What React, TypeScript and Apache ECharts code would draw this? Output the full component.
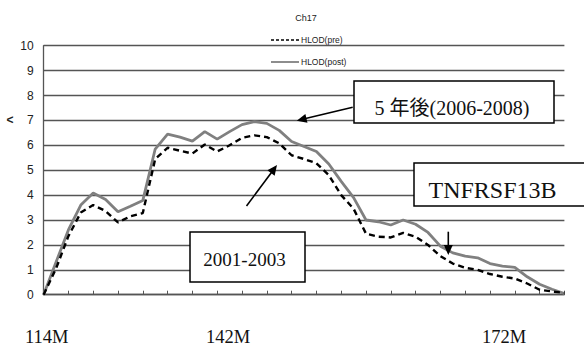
import React, { useEffect, useRef } from "react";
import * as echarts from "echarts";

const chartTitle = "Ch17";
const seriesNames = ["HLOD(pre)", "HLOD(post)"];
const xTickLabels = ["114M", "142M", "172M"];
const yTicks = { min: 0, max: 10, interval: 1 };

// HLOD before (2001-2003), one value per half tick
const pre = [
  0, 1.05, 2.35, 3.3, 3.6, 3.36, 2.9, 3.15, 3.28, 5.45,
  5.9, 5.78, 5.67, 6.03, 5.75, 6.0, 6.3, 6.4, 6.33, 6.08,
  5.6, 5.45, 5.28, 4.8, 4.0, 3.45, 2.45, 2.33, 2.3, 2.48,
  2.33, 2.0, 1.55, 1.25, 1.08, 1.0, 0.83, 0.72, 0.65, 0.45,
  0.2, 0.13, 0.07,
];
// HLOD after (2006-2008)
const post = [
  0, 1.3, 2.6, 3.6, 4.08, 3.82, 3.33, 3.55, 3.78, 5.85,
  6.45, 6.33, 6.17, 6.55, 6.25, 6.55, 6.83, 6.95, 6.88, 6.6,
  6.15, 5.95, 5.75, 5.25, 4.55, 3.9, 3.0, 2.93, 2.8, 3.0,
  2.83, 2.5, 1.95, 1.68, 1.55, 1.48, 1.25, 1.15, 1.1, 0.72,
  0.42, 0.22, 0.05,
];
const categories = pre.map((_, i) => String(i));

const annotations = {
  after: "5 年後(2006-2008)",
  before: "2001-2003",
  gene: "TNFRSF13B",
};

const PRE_COLOR = "#000";
const POST_COLOR = "#808080";

function arrow(x1: number, y1: number, x2: number, y2: number) {
  const dx = x2 - x1, dy = y2 - y1;
  const L = Math.hypot(dx, dy);
  const ux = dx / L, uy = dy / L;
  const len = 10, w = 4.5;
  const bx = x2 - ux * len, by = y2 - uy * len;
  const px = -uy, py = ux;
  return [
    {
      type: "line",
      shape: { x1, y1, x2: bx + ux * 2, y2: by + uy * 2 },
      style: { stroke: "#000", lineWidth: 1.6 },
      z: 100,
    },
    {
      type: "polygon",
      shape: {
        points: [
          [x2, y2],
          [bx + px * w, by + py * w],
          [bx - px * w, by - py * w],
        ],
      },
      style: { fill: "#000" },
      z: 100,
    },
  ];
}

export default function App() {
  const ref = useRef<HTMLDivElement>(null);
  useEffect(() => {
    if (!ref.current) return;
    const chart = echarts.init(ref.current, undefined, { renderer: "svg" });
    const serif = "'Liberation Serif', 'Times New Roman', 'Noto Sans CJK JP', serif";
    const sans = "'Liberation Sans', Arial, sans-serif";
    chart.setOption({
      animation: false,
      backgroundColor: "#fff",
      title: {
        text: chartTitle,
        left: 301,
        top: 8,
        textAlign: "center",
        textStyle: { fontSize: 9, fontWeight: "normal", color: "#222", fontFamily: sans },
      },
      grid: { left: 43.6, right: 19.6, top: 45.7, bottom: 59.3, containLabel: false },
      xAxis: {
        type: "category",
        data: categories,
        boundaryGap: false,
        axisLine: { lineStyle: { color: "#555", width: 1.3 } },
        axisTick: { show: true, interval: 1, inside: true, length: 4, lineStyle: { color: "#555", width: 1 } },
        axisLabel: { show: false },
        splitLine: { show: false },
      },
      yAxis: {
        type: "value",
        min: yTicks.min,
        max: yTicks.max,
        interval: yTicks.interval,
        axisLine: { show: true, lineStyle: { color: "#555", width: 1.3 } },
        axisTick: { show: false },
        axisLabel: { fontSize: 12, color: "#222", margin: 10, fontFamily: sans },
        splitLine: { lineStyle: { color: "#555", width: 1.3 } },
      },
      series: [
        {
          name: seriesNames[0],
          type: "line",
          data: pre,
          symbol: "none",
          lineStyle: { color: PRE_COLOR, width: 2.4, type: [6, 4] },
          itemStyle: { color: PRE_COLOR },
          z: 3,
        },
        {
          name: seriesNames[1],
          type: "line",
          data: post,
          symbol: "none",
          lineStyle: { color: POST_COLOR, width: 2.8 },
          itemStyle: { color: POST_COLOR },
          z: 2,
        },
      ],
      graphic: [
        // legend
        { type: "line", shape: { x1: 271, y1: 40, x2: 299, y2: 40 }, style: { stroke: PRE_COLOR, lineWidth: 1.6, lineDash: [3, 2] } },
        { type: "text", x: 301, y: 40, style: { text: seriesNames[0], fontSize: 8.5, fill: "#222", fontFamily: sans, verticalAlign: "middle" } },
        { type: "line", shape: { x1: 271, y1: 62, x2: 299, y2: 62 }, style: { stroke: POST_COLOR, lineWidth: 1.8 } },
        { type: "text", x: 301, y: 62, style: { text: seriesNames[1], fontSize: 8.5, fill: "#222", fontFamily: sans, verticalAlign: "middle" } },
        // y axis name
        { type: "text", x: 10, y: 120, style: { text: "<", fontSize: 12, fontWeight: "bold", fill: "#222", fontFamily: sans, align: "center", verticalAlign: "middle" } },
        // annotation boxes
        { type: "rect", shape: { x: 354, y: 81, width: 200, height: 42 }, style: { fill: "#fff", stroke: "#000", lineWidth: 1.5 }, z: 90 },
        { type: "text", x: 452, y: 108, style: { text: annotations.after, fontSize: 20, fill: "#111", fontFamily: serif, align: "center", verticalAlign: "middle" }, z: 91 },
        { type: "rect", shape: { x: 190, y: 232, width: 115, height: 50 }, style: { fill: "#fff", stroke: "#000", lineWidth: 1.5 }, z: 90 },
        { type: "text", x: 244.5, y: 259, style: { text: annotations.before, fontSize: 19, fill: "#111", fontFamily: serif, align: "center", verticalAlign: "middle" }, z: 91 },
        { type: "rect", shape: { x: 414, y: 163, width: 175, height: 43 }, style: { fill: "#fff", stroke: "#000", lineWidth: 1.5 }, z: 90 },
        { type: "text", x: 492.5, y: 190, style: { text: annotations.gene, fontSize: 24, fill: "#111", fontFamily: serif, align: "center", verticalAlign: "middle" }, z: 91 },
        ...arrow(352.7, 107.3, 296.7, 120.7),
        ...arrow(246.5, 206, 277, 165),
        ...arrow(448.3, 231.7, 448.3, 255),
        // x labels
        { type: "text", x: 46.8, y: 337, style: { text: xTickLabels[0], fontSize: 18.5, fill: "#111", fontFamily: serif, align: "center", verticalAlign: "middle" } },
        { type: "text", x: 228, y: 337, style: { text: xTickLabels[1], fontSize: 18.5, fill: "#111", fontFamily: serif, align: "center", verticalAlign: "middle" } },
        { type: "text", x: 504, y: 337, style: { text: xTickLabels[2], fontSize: 18.5, fill: "#111", fontFamily: serif, align: "center", verticalAlign: "middle" } },
      ],
    });
    return () => chart.dispose();
  }, []);
  return <div ref={ref} style={{ width: 584, height: 354, position: "absolute", left: 0, top: 0 }} />;
}
